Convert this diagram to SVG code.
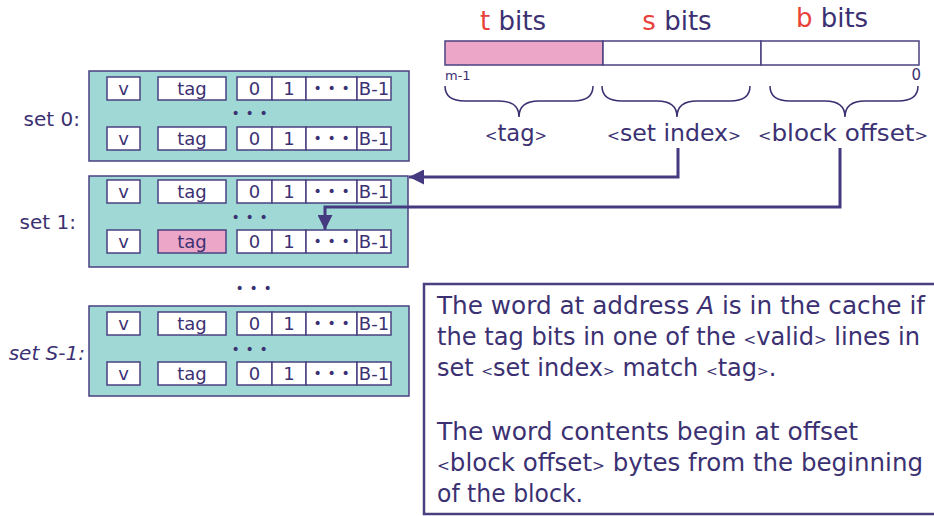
<svg xmlns="http://www.w3.org/2000/svg" width="934" height="516" viewBox="0 0 934 516">
<defs>
<style>
.t{font-family:"DejaVu Sans",sans-serif;fill:#3b3172}
.cell{fill:#fff;stroke:#4a4080;stroke-width:1.5}
.pink{fill:#eca7c8;stroke:#4a4080;stroke-width:1.5}
.set{fill:#9fd8d4;stroke:#4a4080;stroke-width:1.5}
.c{font-size:18px;text-anchor:middle}
.dots{font-size:14px;text-anchor:middle;letter-spacing:0.7px}
.lbl{font-size:20px}
.red{fill:#e8413a}
.conn{fill:none;stroke:#453a80;stroke-width:3}
.brace{fill:none;stroke:#3b3172;stroke-width:1.5}
.para{font-size:24px}
.br{font-size:15px}
</style>
<marker id="ah" viewBox="0 0 10 10" refX="10" refY="5" markerWidth="5" markerHeight="5" orient="auto" markerUnits="strokeWidth">
<path d="M0,0 L10,5 L0,10 z" fill="#453a80"/>
</marker>
<g id="row">
<rect class="cell" x="107" y="0" width="33" height="23"/>
<rect class="cell" x="237" y="0" width="35" height="23"/>
<rect class="cell" x="272" y="0" width="34" height="23"/>
<rect class="cell" x="306" y="0" width="51" height="23"/>
<rect class="cell" x="357" y="0" width="34" height="23"/>
<text class="t c" x="123.5" y="18">v</text>
<text class="t c" x="254.5" y="18">0</text>
<text class="t c" x="289" y="18">1</text>
<text class="t dots" x="332" y="16">• • •</text>
<text class="t c" x="374" y="18">B-1</text>
</g>
</defs>
<rect width="934" height="516" fill="#fff"/>

<g id="address">
<rect x="445" y="41" width="158" height="24" class="pink"/>
<rect x="603" y="41" width="158" height="24" class="cell"/>
<rect x="761" y="41" width="158" height="24" class="cell"/>
<text class="t" x="513" y="30" font-size="26" text-anchor="middle"><tspan class="red">t</tspan> bits</text>
<text class="t" x="677" y="30" font-size="26" text-anchor="middle"><tspan class="red">s</tspan> bits</text>
<text class="t" x="832" y="27" font-size="26" text-anchor="middle"><tspan class="red">b</tspan> bits</text>
<text class="t" x="445" y="80" font-size="13">m-1</text>
<text class="t" x="921" y="80" font-size="15" text-anchor="end">0</text>
<path class="brace" d="M445,86 Q445,101 465,101 L499,101 Q519,101 519,117 Q519,101 539,101 L573,101 Q593,101 593,86"/>
<path class="brace" d="M602,86 Q602,101 622,101 L657,101 Q677,101 677,117 Q677,101 697,101 L730,101 Q750,101 750,86"/>
<path class="brace" d="M770,86 Q770,101 790,101 L825,101 Q845,101 845,117 Q845,101 865,101 L898,101 Q918,101 918,86"/>
<text class="t" x="516" y="141" font-size="23" text-anchor="middle" textLength="62" lengthAdjust="spacingAndGlyphs"><tspan class="br">&lt;</tspan>tag<tspan class="br">&gt;</tspan></text>
<text class="t" x="674" y="141" font-size="23" text-anchor="middle" textLength="134" lengthAdjust="spacingAndGlyphs"><tspan class="br">&lt;</tspan>set index<tspan class="br">&gt;</tspan></text>
<text class="t" x="843" y="141" font-size="23" text-anchor="middle" textLength="170" lengthAdjust="spacingAndGlyphs"><tspan class="br">&lt;</tspan>block offset<tspan class="br">&gt;</tspan></text>
</g>

<g id="set0">
<rect class="set" x="89" y="71" width="320" height="90"/>
<use href="#row" y="77"/>
<rect class="cell" x="158" y="77" width="68" height="23"/>
<text class="t c" x="192" y="95">tag</text>
<text class="t dots" x="250" y="118">• • •</text>
<use href="#row" y="127"/>
<rect class="cell" x="158" y="127" width="68" height="23"/>
<text class="t c" x="192" y="145">tag</text>
<text class="t lbl" x="80" y="126" text-anchor="end">set 0:</text>
</g>

<g id="set1">
<rect class="set" x="89" y="176" width="319" height="91"/>
<use href="#row" y="180"/>
<rect class="cell" x="158" y="180" width="68" height="23"/>
<text class="t c" x="192" y="198">tag</text>
<text class="t dots" x="250" y="222">• • •</text>
<use href="#row" y="230"/>
<rect class="pink" x="158" y="230" width="68" height="23"/>
<text class="t c" x="192" y="248">tag</text>
<text class="t lbl" x="76" y="229" text-anchor="end">set 1:</text>
</g>

<g id="gap">
<text class="t dots" x="254" y="293">• • •</text>
</g>

<g id="setS">
<rect class="set" x="89" y="306" width="320" height="90"/>
<use href="#row" y="312"/>
<rect class="cell" x="158" y="312" width="68" height="23"/>
<text class="t c" x="192" y="330">tag</text>
<text class="t dots" x="250" y="354">• • •</text>
<use href="#row" y="362"/>
<rect class="cell" x="158" y="362" width="68" height="23"/>
<text class="t c" x="192" y="380">tag</text>
<text class="t lbl" x="85" y="360" text-anchor="end" font-style="italic">set S-1:</text>
</g>

<g id="connectors">
<polyline class="conn" points="678,148 678,177 409,177" marker-end="url(#ah)"/>
<polyline class="conn" points="840,148 840,207 325,207 325,230" marker-end="url(#ah)"/>
</g>

<g id="note">
<rect x="424" y="284" width="530" height="230" fill="#fff" stroke="#4a4080" stroke-width="2.5"/>
<text class="t para" x="437" y="314" textLength="488" lengthAdjust="spacingAndGlyphs">The word at address <tspan font-style="italic">A</tspan> is in the cache if</text>
<text class="t para" x="437" y="345" textLength="483" lengthAdjust="spacingAndGlyphs">the tag bits in one of the <tspan class="br">&lt;</tspan>valid<tspan class="br">&gt;</tspan> lines in</text>
<text class="t para" x="437" y="376" font-size="23">set <tspan font-size="14">&lt;</tspan>set index<tspan font-size="14">&gt;</tspan> match <tspan font-size="14">&lt;</tspan>tag<tspan font-size="14">&gt;</tspan>.</text>
<text class="t para" x="437" y="440" textLength="421" lengthAdjust="spacingAndGlyphs">The word contents begin at offset</text>
<text class="t para" x="437" y="471" font-size="23.5" textLength="486" lengthAdjust="spacingAndGlyphs"><tspan class="br">&lt;</tspan>block offset<tspan class="br">&gt;</tspan> bytes from the beginning</text>
<text class="t para" x="437" y="502" textLength="146" lengthAdjust="spacingAndGlyphs">of the block.</text>
</g>
</svg>
